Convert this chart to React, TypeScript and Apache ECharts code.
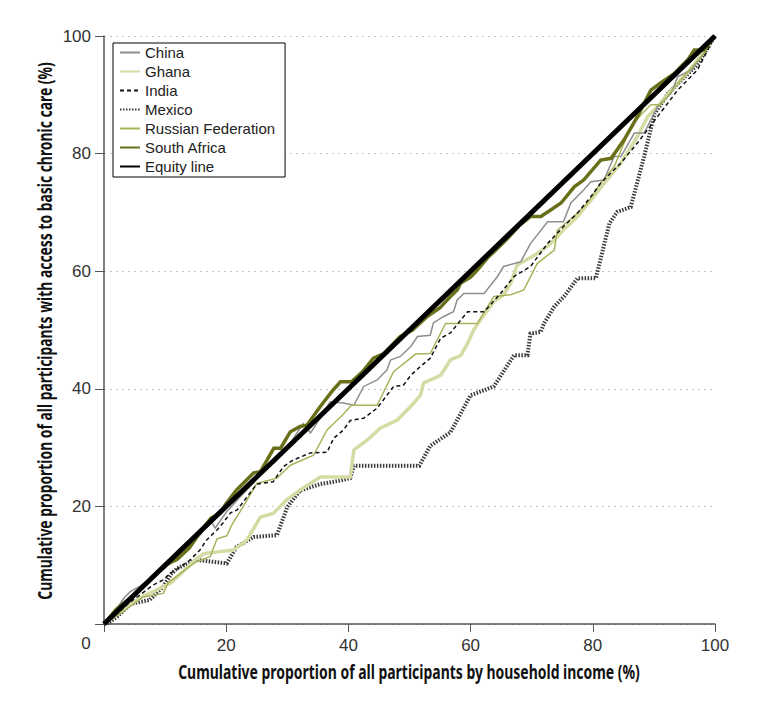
import React, { useEffect, useRef } from "react";
import * as echarts from "echarts";

const TICK_FONT = "'Liberation Sans', Arial, sans-serif";

const xTicks = [0, 20, 40, 60, 80, 100];
const yTicks = [0, 20, 40, 60, 80, 100];

const xTitle = "Cumulative proportion of all participants by household income (%)";
const yTitle = "Cumulative proportion of all participants with access to basic chronic care (%)";

const seriesNames = ["China", "Ghana", "India", "Mexico", "Russian Federation", "South Africa", "Equity line"];

const china: number[][] = [
  [0, 0], [2, 2.5], [3.4, 4.6], [4.3, 5.5], [6, 6.5], [8, 8], [10, 9.5], [12, 11.5], [14, 13], [16, 15.5],
  [17.4, 17.7], [18.2, 16.3], [20, 19], [22.8, 22.2], [24, 23.5], [26.1, 26.2], [28, 27.5], [30, 30],
  [32.6, 34.1], [33.8, 32.5], [35.4, 35], [37, 37.8], [39.2, 37.6], [40.9, 37.2], [42.5, 40.4], [44.7, 41.5],
  [46.3, 43.2], [46.9, 44.9], [48.5, 45.5], [50.2, 47.2], [51.3, 48.9], [53.4, 49.1], [53.9, 51.2],
  [55.6, 52.3], [57.2, 53.1], [57.8, 55.1], [58.9, 56.2], [62.2, 56.2], [64.4, 59.1], [65.4, 60.8],
  [68.2, 61.6], [69.8, 64.7], [72.6, 68.4], [75.2, 68.4], [76.4, 71.6], [78.5, 73.8], [79.7, 75.2],
  [81.8, 75.5], [83.5, 79.5], [84.6, 79.5], [86.8, 83.5], [88.4, 83.5], [90.6, 88], [92.8, 90.2],
  [93.9, 93.1], [96.1, 94.2], [98.2, 97.1], [100, 100],
];

const ghana: number[][] = [
  [0, 0], [3, 2.5], [6, 4.5], [9, 6], [11, 7], [13.5, 9.5], [15, 11], [16.4, 12], [21.3, 12.6], [23.4, 14.3],
  [25.6, 18.2], [27.7, 18.8], [29.9, 21.1], [32.1, 22.8], [35.4, 25], [40.3, 25], [40.9, 29.6], [43.1, 31.3],
  [45.2, 33.3], [48, 34.7], [50.2, 37], [51.8, 38.9], [52.3, 41], [55.1, 42.3], [56.7, 44.9], [58.4, 45.7],
  [59.5, 47.7], [60.5, 50], [61.6, 51.7], [63.8, 54.8], [65.4, 56], [66.6, 58], [67.6, 61], [70.9, 63],
  [73.1, 64.7], [75.2, 67], [77.5, 69.3], [79.7, 72.1], [81.3, 74.2], [84.6, 78.4], [87.3, 82.9],
  [89, 86.3], [91, 88.5], [93.9, 92], [96.5, 95], [100, 100],
];

const india: number[][] = [
  [0, 0], [2.2, 1.8], [4, 3.5], [6.6, 5.5], [8, 6.6], [9.7, 7.5], [10.8, 8.6], [12.5, 9.7], [14.1, 10.9],
  [15.7, 12.6], [16.8, 14.3], [18.5, 16], [19.5, 17.2], [20.7, 18.9], [21.8, 19.4], [23.4, 21.6], [25, 23.8],
  [27.7, 24.2], [29.4, 26.8], [31, 27.9], [33.8, 29.1], [36.5, 29.2], [37.6, 31.6], [39.2, 33], [40.3, 34.6],
  [42.5, 35], [44.7, 36.7], [47.4, 40.4], [49, 40.6], [50.2, 42.3], [51.8, 43.8], [53.4, 45.2], [55.1, 48.6],
  [56.7, 49.5], [58.4, 51.7], [59.5, 53.1], [62.2, 53.1], [64.9, 56.2], [67.1, 59.1], [69.8, 60.8],
  [72.6, 64.7], [75.2, 67.6], [77.5, 69.9], [79.7, 72.7], [81.3, 75], [84.6, 78.4], [87.3, 81.8],
  [90.6, 86.3], [93.9, 90.8], [97.1, 94.2], [100, 100],
];

const mexico: number[][] = [
  [0, 0], [0.4, 0], [2.1, 1.2], [4.3, 3.4], [7.5, 4.1], [9.7, 6.4], [11, 8.5], [12, 9.5], [15.2, 10.9],
  [20.1, 10.3], [21.7, 13.1], [24.5, 14.8], [28.3, 15.1], [30, 19.9], [32.1, 22.7], [35.4, 23.8],
  [38.7, 24.4], [40.3, 24.8], [40.9, 26.9], [51.6, 26.9], [53.4, 30.3], [56.7, 32.6], [60, 38.9],
  [63.8, 40.4], [67.1, 45.7], [69.3, 45.7], [69.8, 49.4], [71.5, 49.7], [72, 51.1], [73.7, 54],
  [75.3, 55.7], [77.5, 58.8], [80.5, 58.8], [82.7, 68.1], [84, 70.1], [86.2, 70.9], [88.4, 79.5],
  [90.1, 86.8], [92.3, 90.2], [95, 93], [97, 95], [100, 100],
];

const russia: number[][] = [
  [0, 0], [3, 2], [6.4, 4.6], [9.7, 5.2], [10.5, 7], [12.5, 8.6], [15, 10.5], [17.4, 11.5], [18.5, 14.5],
  [20.1, 15], [21, 17], [22.8, 20], [25, 23.9], [28.3, 24.8], [30.5, 27], [34.3, 28.7], [36.5, 33],
  [39, 35.5], [40.5, 37.2], [44.7, 37.2], [47.4, 42.9], [51, 45.9], [53.4, 46], [55.9, 51.1], [61.1, 51.1],
  [63.8, 55.7], [66.6, 56], [68.7, 56.8], [70.9, 61.3], [73.7, 63.6], [74.2, 67], [76.9, 69.3],
  [79.1, 71.5], [81.3, 75], [83.5, 77.8], [86.2, 84.5], [87.9, 86.6], [89.5, 88.3], [91.1, 88.3],
  [94.4, 92.5], [98.2, 97], [100, 100],
];

const southAfrica: number[][] = [
  [0, 0], [2, 2.5], [5, 5], [8, 8], [10, 10], [12, 11], [14, 13], [16, 16], [17.5, 18], [19, 18.8],
  [20, 20.5], [21.7, 22.8], [24.5, 25.7], [25.6, 25.9], [26.7, 27.9], [27.8, 29.9], [28.9, 29.9],
  [30.5, 32.7], [32.1, 33.6], [33.2, 33.8], [35.4, 37], [37.5, 39.8], [38.7, 41.2], [40.5, 41.2],
  [42.3, 42.9], [44.1, 45.2], [45.8, 46], [48.5, 48.9], [50.5, 50], [52.9, 52.3], [55, 53.8],
  [56.7, 55.7], [57.8, 56.8], [58.4, 58], [60, 59], [61.1, 60.2], [62.7, 62.2], [64, 63.5],
  [66, 65.5], [68, 67.8], [69.8, 69.3], [71.5, 69.3], [73.1, 70.4], [74.8, 71.6], [77, 74.4],
  [78.5, 75.5], [81.3, 78.9], [83, 79.2], [85.1, 82.3], [87.3, 86.3], [89.5, 90.8], [91.1, 92],
  [93.3, 93.6], [95.5, 95.9], [96.6, 97.6], [98.2, 97.6], [100, 100],
];

const equity: number[][] = [[0, 0], [100, 100]];

const colors = {
  china: "#8e8e8e",
  ghana: "#d6dba4",
  india: "#111111",
  mexico: "#3a3a3a",
  russia: "#aab35c",
  southAfrica: "#6a7019",
  equity: "#000000",
};

function measure(text: string, font: string): number {
  const c = document.createElement("canvas");
  const ctx = c.getContext("2d");
  if (!ctx) return text.length * 10;
  ctx.font = font;
  return ctx.measureText(text).width;
}

export default function App() {
  const ref = useRef<HTMLDivElement>(null);
  useEffect(() => {
    if (!ref.current) return;
    const chart = echarts.init(ref.current, undefined, { renderer: "svg" });
    const mk = (name: string, data: number[][], color: string, width: number, type: any, z: number) => ({
      name,
      type: "line",
      data,
      showSymbol: false,
      symbol: "none",
      z,
      lineStyle: { color, width, type, cap: "butt", join: "miter" },
      itemStyle: { color },
    });
    const titleSize = 19;
    const titleFontCss = `bold ${titleSize}px 'Noto Sans', 'Open Sans', sans-serif`;
    const xW = measure(xTitle, titleFontCss);
    const yW = measure(yTitle, titleFontCss);
    const xScale = 462 / xW;
    const yScale = 538 / yW;
    chart.setOption({
      animation: false,
      backgroundColor: "#ffffff",
      textStyle: { fontFamily: TICK_FONT },
      grid: { left: 104, right: 56, top: 36, bottom: 84, containLabel: false },
      legend: {
        orient: "vertical",
        left: 113,
        top: 43,
        data: seriesNames,
        backgroundColor: "#fff",
        borderColor: "#000",
        borderWidth: 1,
        padding: [1, 10, 2, 6],
        itemWidth: 20,
        itemHeight: 12,
        itemGap: 2,
        itemStyle: { opacity: 0 },
        textStyle: { fontFamily: TICK_FONT, fontSize: 15, color: "#222", lineHeight: 17 },
      },
      xAxis: {
        type: "value",
        min: 0,
        max: 100,
        interval: 20,
        axisLine: { show: true, lineStyle: { color: "#555", width: 1.5 } },
        axisTick: { show: true, length: 8, lineStyle: { color: "#555", width: 1 } },
        axisLabel: {
          fontFamily: TICK_FONT,
          fontSize: 17,
          color: "#333",
          margin: 13,
          formatter: (v: number) => (xTicks.includes(v) && v !== 0 ? String(v) : ""),
        },
        splitLine: { show: false },
      },
      yAxis: {
        type: "value",
        min: 0,
        max: 100,
        interval: 20,
        axisLine: { show: true, lineStyle: { color: "#555", width: 1.5 } },
        axisTick: { show: true, length: 9, lineStyle: { color: "#555", width: 1 } },
        axisLabel: {
          fontFamily: TICK_FONT,
          fontSize: 17,
          color: "#333",
          margin: 13,
          formatter: (v: number) => (yTicks.includes(v) && v !== 0 ? String(v) : ""),
        },
        splitLine: { show: true, lineStyle: { color: "#c4c4c4", type: [2, 4], width: 1 } },
      },
      graphic: [
        {
          type: "text",
          x: 86,
          y: 643,
          style: {
            text: "0",
            font: `17px ${TICK_FONT}`,
            fill: "#333",
            align: "center",
            verticalAlign: "middle",
            textAlign: "center",
            textVerticalAlign: "middle",
          },
        },
        {
          type: "text",
          x: 409,
          y: 672,
          scaleX: xScale,
          style: {
            text: xTitle,
            font: titleFontCss,
            fill: "#111",
            align: "center",
            verticalAlign: "middle",
            textAlign: "center",
            textVerticalAlign: "middle",
          },
        },
        {
          type: "text",
          x: 45,
          y: 331,
          rotation: Math.PI / 2,
          scaleX: yScale,
          style: {
            text: yTitle,
            font: titleFontCss,
            fill: "#111",
            align: "center",
            verticalAlign: "middle",
            textAlign: "center",
            textVerticalAlign: "middle",
          },
        },
      ],
      series: [
        mk("Mexico", mexico, colors.mexico, 4, [1.5, 1.5], 2),
        mk("Ghana", ghana, colors.ghana, 3.5, "solid", 3),
        mk("China", china, colors.china, 1.5, "solid", 4),
        mk("Russian Federation", russia, colors.russia, 1.5, "solid", 5),
        mk("India", india, colors.india, 1.5, [4, 3], 6),
        mk("South Africa", southAfrica, colors.southAfrica, 3.5, "solid", 7),
        mk("Equity line", equity, colors.equity, 5, "solid", 8),
      ],
    });
    return () => chart.dispose();
  }, []);
  return <div ref={ref} style={{ width: 771, height: 708, position: "absolute", left: 0, top: 0 }} />;
}
